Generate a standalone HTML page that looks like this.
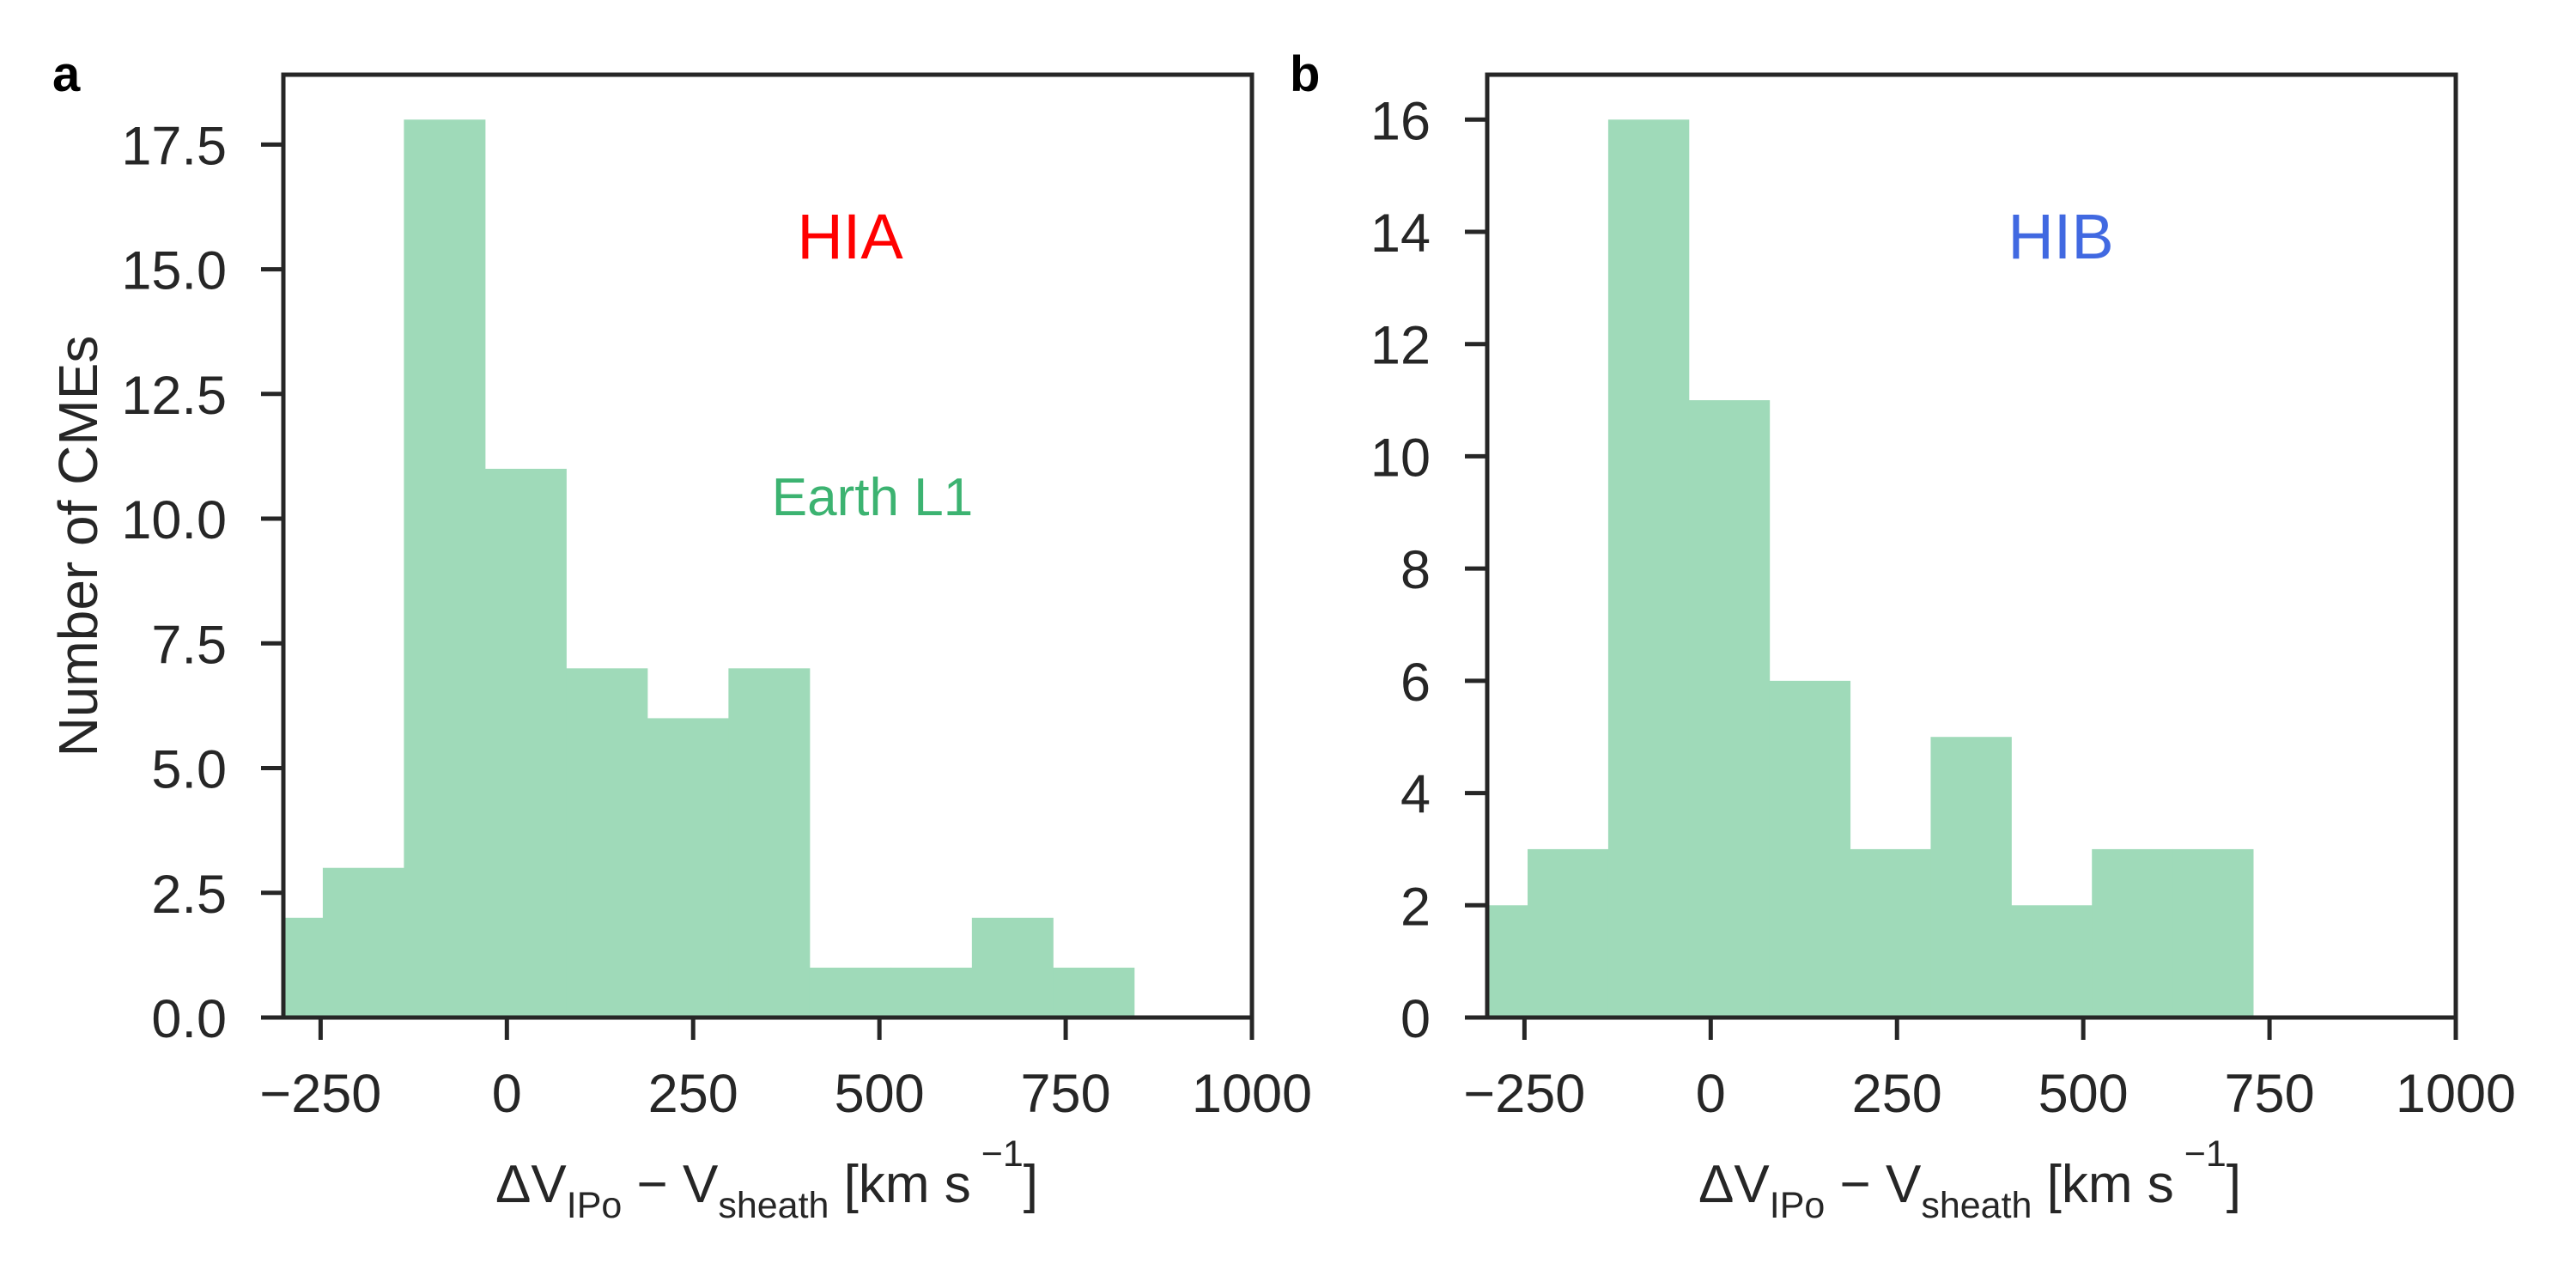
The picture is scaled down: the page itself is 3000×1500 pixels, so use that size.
<!DOCTYPE html>
<html><head><meta charset="utf-8"><style>
html,body{margin:0;padding:0;background:#fff;}
svg{display:block;font-family:"Liberation Sans",Arial,sans-serif;}
</style></head><body>
<svg id="fig" width="3000" height="1500" viewBox="0 0 3000 1500" xmlns="http://www.w3.org/2000/svg"></svg>
<script>
// Panel a data
const binStartA = -356;
const binWidthA = 108.9;
const countsA = [2, 3, 18, 11, 7, 6, 7, 1, 1, 2, 1];
const yTicksA = [0, 2.5, 5, 7.5, 10, 12.5, 15, 17.5];
const yTickLabelsA = ["0.0", "2.5", "5.0", "7.5", "10.0", "12.5", "15.0", "17.5"];
// Panel b data
const binStartB = -354;
const binWidthB = 108.2;
const countsB = [2, 3, 16, 11, 6, 3, 5, 2, 3, 3];
const yTicksB = [0, 2, 4, 6, 8, 10, 12, 14, 16];
const yTickLabelsB = ["0", "2", "4", "6", "8", "10", "12", "14", "16"];
// Shared x axis
const xTicks = [-250, 0, 250, 500, 750, 1000];
const xTickLabels = ["\u2212250", "0", "250", "500", "750", "1000"];

const NS = "http://www.w3.org/2000/svg";
const svg = document.getElementById("fig");
const INK = "#262626";
function mk(tag, attrs, parent) {
  const e = document.createElementNS(NS, tag);
  for (const k in attrs) e.setAttribute(k, attrs[k]);
  (parent || svg).appendChild(e);
  return e;
}

function panel(opts) {
  const L = opts.left, R = opts.left + 1128, T = 87, B = 1185;
  const xmin = -300, xmax = 1000;
  const sx = v => L + (v - xmin) / (xmax - xmin) * (R - L);
  const sy = v => B - v / opts.ymax * (B - T);
  const g = mk("g", {});
  
  
  const clip = mk("clipPath", {id: opts.name + "-clip"}, g);
  mk("rect", {x: L, y: T, width: R - L, height: B - T}, clip);
  const bars = mk("g", {"clip-path": "url(#" + opts.name + "-clip)"}, g);
  opts.counts.forEach((c, i) => {
    const x0 = sx(opts.binStart + i * opts.binWidth);
    const x1 = sx(opts.binStart + (i + 1) * opts.binWidth);
    const r = mk("rect", {x: x0, y: sy(c), width: x1 - x0 + 0.5, height: B - sy(c), fill: "#9fdab9"}, bars);
    
    
  });
  const fr = mk("rect", {x: L, y: T, width: R - L, height: B - T, fill: "none", stroke: INK, "stroke-width": 5}, g);
  
  
  opts.yTicks.forEach((v, i) => {
    const y = sy(v);
    mk("line", {x1: L - 26, x2: L, y1: y, y2: y, stroke: INK, "stroke-width": 5}, g);
    const t = mk("text", {x: L - 66, y: y + 23, "text-anchor": "end", "font-size": 63, fill: INK}, g);
    t.textContent = opts.yLabels[i];
    
    
  });
  xTicks.forEach((v, i) => {
    const x = sx(v);
    mk("line", {x1: x, x2: x, y1: B, y2: B + 26, stroke: INK, "stroke-width": 5}, g);
    const t = mk("text", {x: x, y: 1295, "text-anchor": "middle", "font-size": 63, fill: INK}, g);
    t.textContent = xTickLabels[i];
    
    
  });
  const xl = mk("text", {x: opts.xlabelX, y: 1400, "text-anchor": "middle", "font-size": 62, fill: INK}, g);
  xl.innerHTML = '\u0394V<tspan font-size="43" dy="18">IPo</tspan><tspan dy="-18"> \u2212 V</tspan><tspan font-size="43" dy="18">sheath</tspan><tspan dy="-18"> [km s</tspan><tspan font-size="43" dy="-42"> \u22121</tspan><tspan dy="42">]</tspan>';
  
  
  const pl = mk("text", {x: opts.letterX, y: 106, "font-size": 58, "font-weight": "bold", fill: "#000"}, g);
  pl.textContent = opts.letter;
  
  
  return {g, sx, sy};
}

const a = panel({name: "panel-a", left: 330, binStart: binStartA, binWidth: binWidthA, counts: countsA, ymax: 18.9, yTicks: yTicksA, yLabels: yTickLabelsA, xlabelX: 893, letter: "a", letterX: 61});
const b = panel({name: "panel-b", left: 1732, binStart: binStartB, binWidth: binWidthB, counts: countsB, ymax: 16.8, yTicks: yTicksB, yLabels: yTickLabelsB, xlabelX: 2294, letter: "b", letterX: 1502});

const yl = mk("text", {x: 0, y: 0, transform: "translate(113,636) rotate(-90)", "text-anchor": "middle", "font-size": 64, fill: INK});
yl.textContent = "Number of CMEs";



const hia = mk("text", {x: 990, y: 301, "text-anchor": "middle", "font-size": 74, fill: "#ff0000"});
hia.textContent = "HIA";



const earth = mk("text", {x: 1016, y: 600, "text-anchor": "middle", "font-size": 62, fill: "#3cb371"});
earth.textContent = "Earth L1";



const hib = mk("text", {x: 2400, y: 301, "text-anchor": "middle", "font-size": 74, fill: "#4169e1"});
hib.textContent = "HIB";


</script>
</body></html>
